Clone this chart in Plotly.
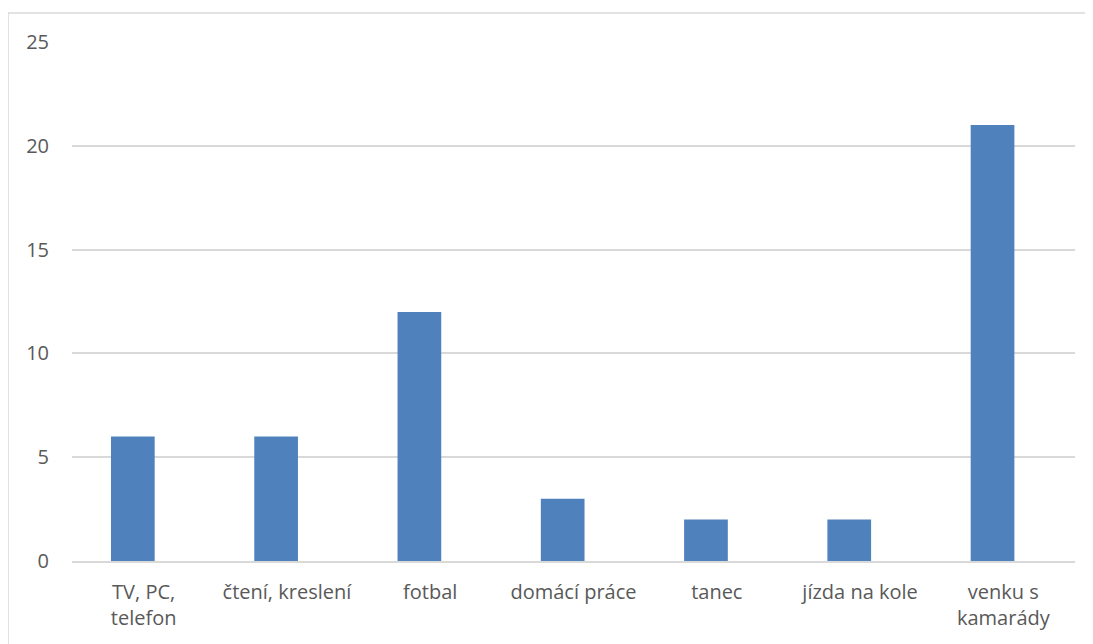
import plotly.graph_objects as go

categories = ["TV, PC,<br>telefon", "čtení, kreslení", "fotbal", "domácí práce",
              "tanec", "jízda na kole", "venku s<br>kamarády"]
values = [6, 6, 12, 3, 2, 2, 21]
y_ticks = [0, 5, 10, 15, 20, 25]

# page body has an 8px margin, so the figure starts at (8, 8) on screen
OFF = 8
W, H = 1093 - OFF, 644 - OFF
L, R, T, B = 72 - OFF, 18, 42 - OFF, 83
pw, ph = W - L - R, H - T - B

FONT = "Open Sans, Lato, sans-serif"
FS = 20

fig = go.Figure(go.Bar(x=categories, y=values, marker_color="#4F81BD",
                       marker_line_width=0, width=0.305, offset=-0.228))

fig.update_layout(
    width=W, height=H,
    margin=dict(l=L, r=R, t=T, b=B, autoexpand=False),
    paper_bgcolor="white", plot_bgcolor="white",
    showlegend=False,
    font=dict(family=FONT, size=FS, color="#595959"),
    xaxis=dict(showgrid=False, showline=True, linecolor="#D9D9D9", linewidth=1.5,
               ticks="", ticklabelstandoff=12, tickfont=dict(family=FONT, size=FS, color="#595959")),
    yaxis=dict(range=[0, 25], tickvals=y_ticks, showgrid=True, gridcolor="#D9D9D9",
               gridwidth=1.5, zeroline=False, showline=False, ticks="",
               ticklabelstandoff=22, tickfont=dict(family=FONT, size=FS, color="#595959")),
)

# outer chart border
fig.add_shape(type="rect", xref="paper", yref="paper",
              x0=(8 - OFF - L) / pw, x1=(W + 10 - L) / pw,
              y0=-(B + 10) / ph, y1=1 + (T - (13 - OFF)) / ph,
              line=dict(color="#D9D9D9", width=1.5), fillcolor="rgba(0,0,0,0)",
              layer="below")

fig.write_html("out.html")
